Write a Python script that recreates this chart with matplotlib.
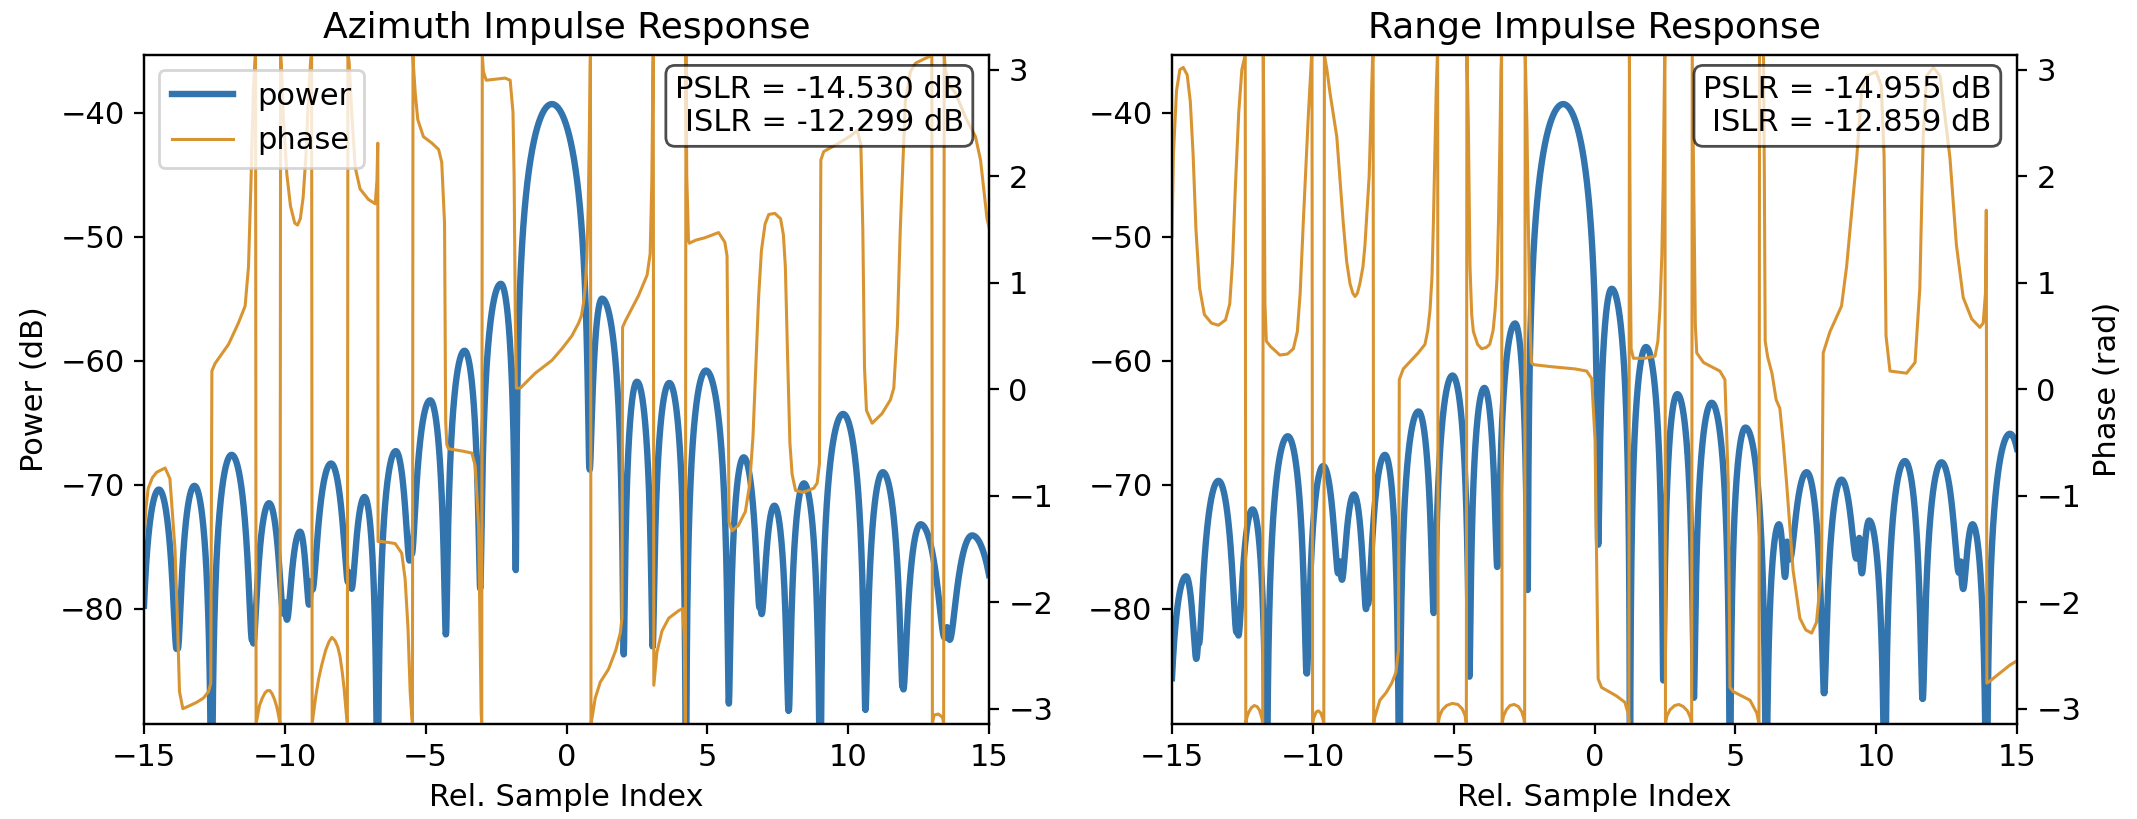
import numpy as np
import matplotlib
matplotlib.use("Agg")
import matplotlib.pyplot as plt

plt.rcParams["font.family"] = ["DejaVu Sans"]
plt.rcParams["font.size"] = 11

BLUE = "#3274ad"
ORANGE = "#d99432"

# ---------------- Azimuth impulse response ----------------
# power curve described lobe by lobe: nulls (position, level) and the peak of each lobe
az_null_x = [-15.15, -13.82, -12.60, -11.15, -10.00, -9.07, -7.70, -6.71, -5.52, -4.28,
             -3.06, -1.80, 0.81, 2.03, 3.06, 4.24, 5.76, 6.88, 7.89, 9.01, 10.61,
             11.94, 13.51, 15.57]
az_null_db = [-150, -82.9, -150, -82.3, -79.5, -77.8, -77.1, -150, -75.2, -82.0,
              -78.3, -76.9, -68.5, -83.7, -83.0, -150, -87.6, -79.5, -88.1, -150, -88.1,
              -86.2, -81.5, -150]
az_peak_x = [-14.47, -13.21, -11.89, -10.56, -9.46, -8.36, -7.17, -6.06, -4.84, -3.62,
             -2.33, -0.52, 1.26, 2.50, 3.65, 4.95, 6.29, 7.38, 8.43, 9.82, 11.23,
             12.57, 14.40]
az_peak_db = [-70.4, -70.1, -67.6, -71.5, -73.8, -68.3, -71.0, -67.3, -63.2, -59.2,
              -53.8, -39.3, -55.0, -61.7, -61.8, -60.8, -67.8, -71.7, -69.9, -64.3, -69.0,
              -73.2, -74.1]

# wrapped phase samples (sample index, rad)
az_phase = [
    (-15.00, -1.40), (-14.93, -1.12), (-14.85, -0.93), (-14.70, -0.83), (-14.55, -0.78),
    (-14.25, -0.74), (-14.08, -0.84), (-13.90, -1.50), (-13.82, -2.11), (-13.74, -2.84),
    (-13.62, -3.00), (-13.37, -2.97), (-13.13, -2.94), (-12.89, -2.90), (-12.71, -2.84),
    (-12.63, -2.76), (-12.59, 0.17), (-12.48, 0.24), (-12.00, 0.42), (-11.65, 0.62),
    (-11.41, 0.78), (-11.29, 1.15), (-11.20, 1.96), (-11.12, 2.78), (-11.06, 3.10),
    (-11.04, 3.14), (-11.02, -3.14), (-10.97, -3.07), (-10.90, -2.97), (-10.80, -2.90),
    (-10.70, -2.85), (-10.62, -2.83), (-10.53, -2.83), (-10.45, -2.86), (-10.37, -2.91),
    (-10.30, -2.97), (-10.24, -3.04), (-10.19, -3.11), (-10.17, -3.14), (-10.15, 3.14),
    (-10.12, 3.02), (-10.05, 2.55), (-9.93, 2.02), (-9.80, 1.72), (-9.65, 1.56),
    (-9.55, 1.54), (-9.45, 1.60), (-9.35, 1.80), (-9.25, 2.20), (-9.16, 2.75),
    (-9.08, 3.10), (-9.05, 3.14), (-9.03, -3.14), (-8.97, -3.02), (-8.90, -2.88),
    (-8.80, -2.72), (-8.69, -2.59), (-8.55, -2.45), (-8.43, -2.37), (-8.33, -2.33),
    (-8.22, -2.36), (-8.12, -2.42), (-8.04, -2.51), (-7.96, -2.66), (-7.90, -2.80),
    (-7.86, -2.92), (-7.81, -3.07), (-7.78, -3.14), (-7.76, 3.14), (-7.72, 3.08),
    (-7.62, 2.57), (-7.50, 2.08), (-7.33, 1.88), (-7.03, 1.78), (-6.79, 1.74),
    (-6.73, 1.96), (-6.70, 2.31), (-6.69, -1.43), (-6.60, -1.43), (-6.30, -1.44),
    (-6.08, -1.45), (-5.85, -1.54), (-5.73, -1.78), (-5.63, -2.23), (-5.55, -2.84),
    (-5.49, -3.08), (-5.47, -3.14), (-5.45, 3.14), (-5.43, 3.02), (-5.37, 2.78),
    (-5.28, 2.53), (-5.08, 2.37), (-4.78, 2.31), (-4.54, 2.25), (-4.43, 2.13),
    (-4.33, 1.56), (-4.29, -0.30), (-4.25, -0.52), (-4.19, -0.56), (-3.72, -0.58),
    (-3.36, -0.60), (-3.24, -0.72), (-3.12, -1.29), (-3.06, -2.51), (-3.03, -3.04),
    (-3.01, -3.14), (-2.99, 3.14), (-2.95, 2.98), (-2.85, 2.90), (-2.50, 2.91),
    (-2.18, 2.92), (-2.00, 2.90), (-1.90, 2.60), (-1.86, 2.00), (-1.82, 0.74),
    (-1.78, 0.01), (-1.64, 0.01), (-1.11, 0.15), (-0.52, 0.27), (-0.16, 0.38),
    (0.19, 0.50), (0.43, 0.62), (0.53, 0.69), (0.61, 0.82), (0.67, 0.98),
    (0.72, 1.23), (0.77, 1.70), (0.81, 2.37), (0.84, 3.06), (0.85, 3.14),
    (0.87, -3.14), (0.93, -3.05), (1.02, -2.90), (1.20, -2.75), (1.49, -2.63),
    (1.75, -2.45), (1.91, -2.29), (1.97, -2.15), (1.99, 0.58), (2.09, 0.64),
    (2.56, 0.88), (2.86, 1.07), (2.97, 1.27), (3.03, 1.96), (3.07, 3.06),
    (3.08, 3.14), (3.10, -2.78), (3.21, -2.47), (3.39, -2.27), (3.63, -2.15),
    (3.98, -2.08), (4.12, -2.06), (4.18, -2.30), (4.22, -3.14), (4.24, 3.14),
    (4.27, 2.00), (4.33, 1.40), (4.36, 1.37), (4.60, 1.40), (4.90, 1.42),
    (5.20, 1.45), (5.40, 1.47), (5.52, 1.42), (5.62, 1.38), (5.70, 1.25),
    (5.74, 0.00), (5.77, -1.25), (5.88, -1.33), (6.10, -1.28), (6.35, -1.15),
    (6.50, -0.90), (6.62, -0.45), (6.72, 0.20), (6.82, 0.86), (6.92, 1.30),
    (7.05, 1.55), (7.18, 1.64), (7.40, 1.65), (7.60, 1.60), (7.70, 1.45),
    (7.77, 1.15), (7.85, 0.30), (7.93, -0.50), (8.01, -0.80), (8.13, -0.95),
    (8.40, -0.97), (8.78, -0.93), (8.90, -0.88), (8.98, -0.70), (9.03, 2.15),
    (9.13, 2.23), (9.67, 2.31), (10.10, 2.38), (10.32, 2.43), (10.45, 2.30),
    (10.52, 1.50), (10.58, 0.20), (10.65, -0.20), (10.85, -0.32), (11.20, -0.23),
    (11.50, -0.10), (11.62, 0.01), (11.75, 0.60), (11.85, 1.50), (11.92, 1.96),
    (12.03, 2.70), (12.21, 2.98), (12.39, 3.06), (12.70, 3.10), (12.95, 3.13),
    (12.97, 3.14), (12.99, -3.14), (13.05, -3.06), (13.20, -3.05), (13.35, -3.08),
    (13.39, -3.14), (13.41, 3.14), (13.45, 3.00), (13.60, 2.85), (13.81, 2.78),
    (14.17, 2.55), (14.52, 2.37), (14.70, 2.15), (14.93, 1.60), (15.00, 1.52),
]

# ---------------- Range impulse response ----------------
rg_null_x = [-15.17, -14.07, -12.68, -11.64, -10.22, -9.04, -8.07, -6.93, -5.70, -4.44,
             -3.44, -2.37, 0.13, 1.26, 2.44, 3.53, 4.81, 6.09, 6.84, 8.15,
             9.40, 10.31, 11.65, 13.00, 13.92, 15.51]
rg_null_db = [-150, -82.5, -81.5, -150, -85.1, -76.2, -79.2, -150, -80.2, -85.5,
              -76.4, -78.5, -74.8, -150, -85.8, -87.2, -150, -150, -74.6, -86.7,
              -74.3, -150, -87.2, -76.2, -150, -150]
rg_peak_x = [-14.50, -13.35, -12.14, -10.89, -9.63, -8.54, -7.44, -6.25, -5.04, -3.91,
             -2.82, -1.11, 0.61, 1.83, 2.94, 4.16, 5.36, 6.55, 7.53, 8.77,
             9.75, 11.02, 12.32, 13.42, 14.75]
rg_peak_db = [-77.4, -69.7, -72.0, -66.1, -68.5, -70.8, -67.6, -64.1, -61.2, -62.2,
              -57.0, -39.3, -54.2, -58.9, -62.7, -63.4, -65.4, -73.2, -69.0, -69.6,
              -72.9, -68.1, -68.2, -73.2, -65.9]

rg_phase = [
    (-15.00, 1.43), (-14.95, 2.20), (-14.84, 2.80), (-14.72, 3.00), (-14.60, 3.02),
    (-14.46, 2.95), (-14.35, 2.70), (-14.25, 2.20), (-14.15, 1.50), (-14.02, 0.95),
    (-13.85, 0.70), (-13.60, 0.62), (-13.35, 0.60), (-13.10, 0.65), (-12.95, 0.80),
    (-12.85, 1.20), (-12.75, 1.90), (-12.63, 2.60), (-12.52, 3.00), (-12.42, 3.12),
    (-12.40, 3.14), (-12.38, -3.14), (-12.34, -3.08), (-12.27, -3.03), (-12.18, -2.99),
    (-12.08, -2.97), (-11.98, -2.98), (-11.90, -3.01), (-11.84, -3.06), (-11.80, -3.10),
    (-11.78, -3.14), (-11.76, 3.14), (-11.73, 2.20), (-11.70, 0.80), (-11.65, 0.45),
    (-11.50, 0.40), (-11.17, 0.32), (-10.90, 0.33), (-10.69, 0.38), (-10.55, 0.54),
    (-10.45, 0.90), (-10.34, 1.56), (-10.16, 2.57), (-10.05, 3.10), (-10.03, 3.14),
    (-10.01, -3.14), (-9.96, -3.08), (-9.88, -3.03), (-9.80, -3.02), (-9.72, -3.04),
    (-9.65, -3.09), (-9.61, -3.14), (-9.59, 3.14), (-9.50, 3.00), (-9.39, 2.78),
    (-9.15, 2.37), (-8.92, 1.56), (-8.80, 1.20), (-8.68, 0.99), (-8.58, 0.90),
    (-8.50, 0.87), (-8.42, 0.90), (-8.33, 0.99), (-8.22, 1.15), (-8.15, 1.35),
    (-8.00, 2.00), (-7.88, 3.10), (-7.86, 3.14), (-7.84, -3.14), (-7.80, -3.08),
    (-7.62, -2.92), (-7.40, -2.85), (-7.20, -2.76), (-7.05, -2.66), (-6.96, -2.45),
    (-6.93, 0.09), (-6.79, 0.19), (-6.26, 0.34), (-6.02, 0.42), (-5.92, 0.55),
    (-5.84, 0.74), (-5.77, 1.05), (-5.72, 1.56), (-5.62, 2.80), (-5.58, 3.12),
    (-5.57, 3.14), (-5.55, -3.14), (-5.50, -3.07), (-5.40, -3.01), (-5.25, -2.97),
    (-5.05, -2.95), (-4.85, -2.96), (-4.70, -3.00), (-4.60, -3.06), (-4.55, -3.14),
    (-4.53, 3.14), (-4.48, 2.50), (-4.42, 1.15), (-4.36, 0.70), (-4.30, 0.54),
    (-4.15, 0.42), (-4.01, 0.38), (-3.85, 0.39), (-3.72, 0.42), (-3.60, 0.55),
    (-3.53, 0.74), (-3.46, 1.05), (-3.41, 1.56), (-3.36, 2.30), (-3.32, 3.00),
    (-3.30, 3.14), (-3.28, -3.14), (-3.23, -3.07), (-3.13, -3.01), (-3.00, -2.97),
    (-2.85, -2.96), (-2.70, -2.98), (-2.58, -3.03), (-2.51, -3.09), (-2.48, -3.14),
    (-2.46, 3.14), (-2.40, 2.50), (-2.35, 1.56), (-2.29, 0.60), (-2.24, 0.25),
    (-2.17, 0.23), (-1.50, 0.21), (-0.69, 0.19), (-0.28, 0.17), (-0.10, 0.10),
    (0.02, -0.48), (0.13, -2.72), (0.25, -2.80), (0.78, -2.88), (1.08, -2.94),
    (1.20, -3.05), (1.22, -3.14), (1.24, 3.14), (1.27, 1.20), (1.30, 0.38),
    (1.38, 0.29), (1.79, 0.29), (2.15, 0.31), (2.25, 0.45), (2.32, 0.74),
    (2.39, 1.25), (2.44, 1.96), (2.49, 3.10), (2.50, 3.14), (2.52, -3.14),
    (2.57, -3.07), (2.68, -3.01), (2.85, -2.97), (3.00, -2.96), (3.15, -2.98),
    (3.30, -3.02), (3.40, -3.08), (3.45, -3.14), (3.47, 3.14), (3.52, 2.00),
    (3.58, 0.60), (3.63, 0.34), (3.87, 0.25), (4.45, 0.17), (4.63, 0.09),
    (4.75, -0.89), (4.81, -2.80), (4.93, -2.84), (5.52, -2.92), (5.76, -3.04),
    (5.84, -3.14), (5.86, 3.14), (6.00, 3.14), (6.03, 2.00), (6.06, 0.45),
    (6.15, 0.30), (6.30, 0.15), (6.45, -0.10), (6.58, -0.18), (6.70, -0.50),
    (6.82, -0.88), (7.05, -1.70), (7.29, -2.15), (7.50, -2.26), (7.71, -2.29),
    (7.88, -2.19), (8.06, -1.70), (8.12, 0.34), (8.36, 0.54), (8.77, 0.78),
    (8.95, 1.15), (9.31, 2.17), (9.48, 2.78), (9.66, 2.94), (10.00, 2.98),
    (10.18, 2.85), (10.28, 2.20), (10.31, 1.50), (10.35, 0.50), (10.49, 0.17),
    (11.08, 0.15), (11.38, 0.25), (11.55, 0.95), (11.67, 2.37), (11.79, 2.94),
    (12.03, 3.02), (12.27, 2.94), (12.62, 2.17), (12.85, 1.35), (13.09, 0.86),
    (13.39, 0.66), (13.68, 0.58), (13.80, 0.62), (13.88, 0.90), (13.91, 1.68),
    (13.93, -2.76), (14.04, -2.74), (14.75, -2.59), (15.00, -2.55),
]

panels = [
    ("Azimuth Impulse Response", az_null_x, az_null_db, az_peak_x, az_peak_db,
     az_phase, "PSLR = -14.530 dB\nISLR = -12.299 dB"),
    ("Range Impulse Response", rg_null_x, rg_null_db, rg_peak_x, rg_peak_db,
     rg_phase, "PSLR = -14.955 dB\nISLR = -12.859 dB"),
]


def lobe_power(x, null_x, null_db, peak_x, peak_db):
    """Power in dB built lobe by lobe between successive nulls."""
    null_x = np.asarray(null_x, float)
    null_db = np.asarray(null_db, float)
    peak_x = np.asarray(peak_x, float)
    peak_db = np.asarray(peak_db, float)
    k = np.clip(np.searchsorted(null_x, x, side="right") - 1, 0, len(peak_x) - 1)
    n0, n1, p = null_x[k], null_x[k + 1], peak_x[k]
    left = x < p
    s = np.where(left, (x - n0) / (p - n0), (n1 - x) / (n1 - p))
    s = np.clip(s, 0.0, 1.0)
    a = 10 ** (peak_db[k] / 20) * np.sin(np.pi / 2 * s)
    f = np.where(left, 10 ** (null_db[k] / 20), 10 ** (null_db[k + 1] / 20)) * (1 - s) ** 2
    return 20 * np.log10(np.sqrt(a ** 2 + f ** 2))


fig = plt.figure(figsize=(2137 / 200, 819 / 200), dpi=200)
lefts = [144 / 2137, 1172 / 2137]
width = 845 / 2137
bottom = 1 - 723.8 / 819
height = 669.3 / 819

xs = np.linspace(-15, 15, 6001)
for i, (title, nx, nd, px, pd, phase, stats) in enumerate(panels):
    ax = fig.add_axes([lefts[i], bottom, width, height])
    pw = lobe_power(xs, nx, nd, px, pd)
    l1, = ax.plot(xs, pw, color=BLUE, lw=2.3, label="power")
    ax.set_xlim(-15, 15)
    ax.set_ylim(-89.3, -35.3)
    ax.set_title(title, fontsize=13)
    ax.set_xlabel("Rel. Sample Index")
    if i == 0:
        ax.set_ylabel("Power (dB)")

    ax2 = ax.twinx()
    phx, phr = np.array(phase).T
    l2, = ax2.plot(phx, phr, color=ORANGE, lw=1.1, label="phase")
    ax2.set_ylim(-np.pi, np.pi)
    if i == 1:
        ax2.set_ylabel("Phase (rad)")
    if i == 0:
        ax2.legend([l1, l2], ["power", "phase"], loc="upper left")
    ax2.text(0.97, 0.97, stats, transform=ax2.transAxes, ha="right", va="top",
             multialignment="right",
             bbox=dict(boxstyle="round", facecolor="white", alpha=0.7))

fig.savefig("out.png", dpi=200)
